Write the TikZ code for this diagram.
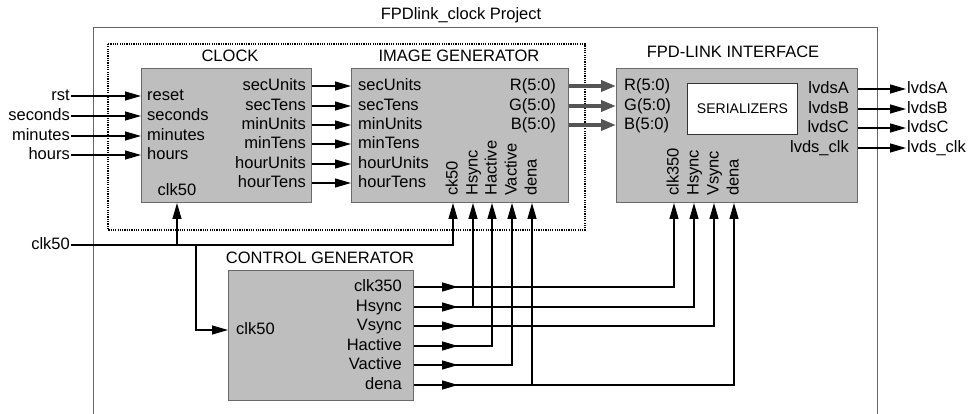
\documentclass[tikz,border=0pt]{standalone}
\usepackage{fontspec}
\setmainfont{Liberation Sans}
\usetikzlibrary{arrows.meta}
\definecolor{boxfill}{RGB}{190,190,190}
\definecolor{boxline}{RGB}{105,105,105}
\definecolor{busgray}{RGB}{85,85,85}
\begin{document}
\begin{tikzpicture}[x=1pt,y=-1pt,
  lbl/.style={font=\fontsize{16.5}{18}\selectfont, inner sep=1pt, text height=12pt, text depth=3pt},
  sml/.style={font=\fontsize{14}{16}\selectfont},
  box/.style={draw=boxline, fill=boxfill, line width=1pt, inner sep=0pt, anchor=north west},
  wire/.style={line width=1.2pt, black},
  arr/.style={wire, -{Triangle[length=16pt,width=9pt]}},
  bus/.style={line width=3.5pt, busgray, -{Triangle[length=15pt,width=11pt]}}
]
\useasboundingbox (0,0) rectangle (970,414);

% frames
\node[lbl] (title) at (461,15) {FPDlink\_clock Project};
\draw[line width=1pt, black!60] (93,420) -- (93,28) -- (877,28) -- (877,420);
\draw[line width=1.4pt, dash pattern=on 1.2pt off 1.1pt] (108,44) rectangle (585,230);

% boxes
\node[box, minimum width=170pt, minimum height=134pt] (clock) at (141,68) {};
\node[box, minimum width=217pt, minimum height=134pt] (img) at (351,68) {};
\node[box, minimum width=241pt, minimum height=134pt] (fpd) at (616,68) {};
\node[box, fill=white, draw=black!80, minimum width=110pt, minimum height=51pt, sml] (ser) at (687,83) {SERIALIZERS};
\node[box, minimum width=185pt, minimum height=130pt] (ctrl) at (228,270) {};

% titles
\node[lbl] (tclock) at (230,57) {CLOCK};
\node[lbl] (timg) at (459,57) {IMAGE GENERATOR};
\node[lbl] (tfpd) at (733,53) {FPD-LINK INTERFACE};
\node[lbl] (tctrl) at (320,259) {CONTROL GENERATOR};

% clock inputs
\foreach \e/\t/\y [count=\i] in {rst/reset/96, seconds/seconds/116, minutes/minutes/136, hours/hours/155}{
  \node[lbl, anchor=east] (ext\i) at (71,\y) {\e};
  \node[lbl, anchor=west] (ci\i) at (146,\y) {\t};
  \draw[arr] (ext\i.east) -- (ext\i.east -| clock.west);
}
\node[lbl] (cclk) at (177,191) {clk50};

% clock outputs -> image generator inputs
\foreach \t/\y [count=\i] in {secUnits/86, secTens/106, minUnits/125, minTens/144, hourUnits/164, hourTens/183}{
  \node[lbl, anchor=east] (co\i) at (307,\y) {\t};
  \node[lbl, anchor=west] (ii\i) at (357,\y) {\t};
  \draw[arr] (clock.east |- co\i.east) -- (img.west |- co\i.east);
}

% image generator rotated inputs
\foreach \t/\x [count=\i] in {ck50/453, Hsync/473, Hactive/492, Vactive/512, dena/532}{
  \node[lbl, rotate=90, anchor=west] (iv\i) at (\x,197) {\t};
}

% RGB buses
\foreach \t/\y [count=\i] in {R(5:0)/86, G(5:0)/106, B(5:0)/125}{
  \node[lbl, anchor=east] (rgbo\i) at (557,\y) {\t};
  \node[lbl, anchor=west] (rgbi\i) at (623,\y) {\t};
  \draw[bus] (img.east |- rgbo\i.east) -- (fpd.west |- rgbo\i.east);
}

% FPD outputs
\foreach \t/\y [count=\i] in {lvdsA/89, lvdsB/109, lvdsC/128, lvds\_clk/148}{
  \node[lbl, anchor=east] (lo\i) at (850,\y) {\t};
  \node[lbl, anchor=west] (lx\i) at (906,\y) {\t};
  \draw[arr] (fpd.east |- lo\i.east) -- (lx\i.west);
}

% FPD rotated inputs
\foreach \t/\x [count=\i] in {clk350/674, Hsync/694, Vsync/714, dena/734}{
  \node[lbl, rotate=90, anchor=west] (fv\i) at (\x,197) {\t};
}

% control generator labels
\node[lbl, anchor=west] (kclk) at (235,330) {clk50};
\foreach \t/\y [count=\i] in {clk350/287, Hsync/307, Vsync/326, Hactive/346, Vactive/365, dena/385}{
  \node[lbl, anchor=east] (k\i) at (403,\y) {\t};
}

% clk50 distribution
\node[lbl, anchor=east] (inclk) at (71,245) {clk50};
\coordinate (tap) at (196,245);
\draw[arr] (inclk.east) -| (img.south -| iv1);
\draw[arr] (inclk.east -| cclk) -- (clock.south -| cclk);
\draw[arr] (tap) |- (ctrl.west |- kclk);

% control outputs
\draw[arr] (ctrl.east |- k1) -| (fpd.south -| fv1);
\draw[arr] (ctrl.east |- k2) -| (fpd.south -| fv2);
\draw[arr] (iv2 |- k2) -- (img.south -| iv2);
\draw[arr] (ctrl.east |- k3) -| (fpd.south -| fv3);
\draw[arr] (ctrl.east |- k4) -| (img.south -| iv3);
\draw[arr] (ctrl.east |- k5) -| (img.south -| iv4);
\draw[arr] (ctrl.east |- k6) -| (fpd.south -| fv4);
\draw[arr] (iv5 |- k6) -- (img.south -| iv5);
\foreach \i in {1,...,6}{
  \draw[arr] (ctrl.east |- k\i) -- ++(44,0);
}
\end{tikzpicture}
\end{document}
